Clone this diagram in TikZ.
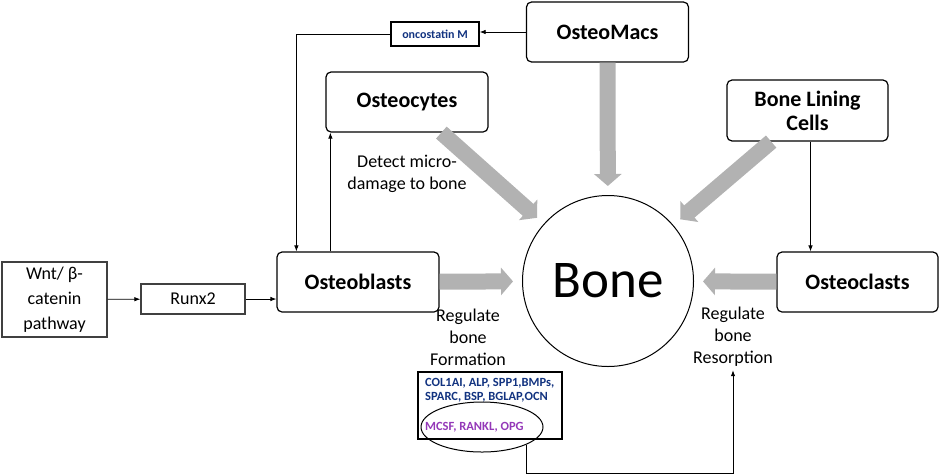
\documentclass[tikz,border=0pt]{standalone}
\usepackage{fontspec}
\setmainfont{Carlito}
\usetikzlibrary{arrows.meta,shapes.geometric,calc}
\definecolor{arrowgray}{rgb}{0.70,0.70,0.70}
\definecolor{geneblue}{rgb}{0.07,0.20,0.50}
\definecolor{genepurple}{rgb}{0.58,0.22,0.72}

\begin{document}
\begin{tikzpicture}[x=1pt,y=-1pt,
	cell/.style={draw, line width=1.2pt, rounded corners=5pt, align=center, minimum height=60pt, font=\fontsize{22}{24}\selectfont\bfseries},
	sqbox/.style={draw=black!75, line width=1.3pt, align=center, font=\fontsize{18}{25}\selectfont},
	note/.style={align=center, font=\fontsize{18}{22}\selectfont},
	genetext/.style={anchor=west, align=left, inner sep=0pt, font=\fontsize{12.5}{14}\selectfont\bfseries},
	link/.style={line width=0.8pt, -{Latex[length=6pt,width=4.5pt]}},
	flow/.style={line width=16pt, color=arrowgray, shorten >=9pt, -{Triangle[length=12pt,width=27pt]}}]
		\useasboundingbox (0,0) rectangle (941,475);
		% cells round the bone
		\node[cell, minimum width=162pt] (osteomacs) at (607.5,32) {OsteoMacs};
		\node[cell, minimum width=162pt] (osteocytes) at (407,102) {Osteocytes};
		\node[cell, minimum width=161pt, minimum height=61pt] (lining) at (807.5,110.5) {Bone Lining\\Cells};
		\node[cell, minimum width=162pt] (osteoblasts) at (358,282) {Osteoblasts};
		\node[cell, minimum width=161pt] (osteoclasts) at (857.5,282) {Osteoclasts};
		\node[draw, line width=1pt, circle, minimum size=171pt, font=\fontsize{53}{60}\selectfont] (bone) at (608,281) {Bone};
		% left chain
		\node[sqbox, minimum width=105pt, minimum height=75pt] (wnt) at (54.5,299.5) {Wnt/ β-\\catenin\\pathway};
		\node[sqbox, minimum width=104pt, minimum height=30pt] (runx) at (193,299) {Runx2};
		\node[draw, line width=1.3pt, minimum width=88pt, minimum height=24pt, text=geneblue, font=\fontsize{12}{14}\selectfont\bfseries] (oncostatin) at (435,34) {oncostatin M};
		% labels
		\node[note] (damage) at (407,174) {Detect micro-\\damage to bone};
		\node[note] (formation) at (468,337) {Regulate\\bone\\Formation};
		\node[note] (resorption) at (733,337) {Regulate\\bone\\Resorption};
		% gene box
		\node[draw, line width=1.3pt, minimum width=144pt, minimum height=67pt] (genes) at (490,405.5) {};
		\node[genetext, text=geneblue] (markers) at (425,390) {COL1AI, ALP, SPP1,BMPs,\\SPARC, BSP, BGLAP,OCN};
		\node[genetext, text=genepurple] (signals) at (425,427) {MCSF, RANKL, OPG};
		\node[draw, line width=1pt, ellipse, minimum width=122pt, minimum height=50pt] (ring) at (482,427) {};
		% thick grey arrows
		\foreach \src in {osteomacs, osteocytes, lining, osteoblasts, osteoclasts}{
			\draw[flow] (\src) -- (bone);
		}
		% thin arrows
		\draw[link] (wnt) -- (runx);
		\draw[link] (runx.east) -- (runx.east -| osteoblasts.west);
		\draw[link] (osteomacs.west) -- (osteomacs.west -| oncostatin.east);
		\coordinate (drop) at ($(osteoblasts.north west)+(20,0)$);
		\draw[link] (oncostatin.west) -| (drop);
		\coordinate (rise) at ($(osteoblasts.north west)+(54,0)$);
		\draw[link] (rise) -- (rise |- osteocytes.south);
		\coordinate (signal) at ($(lining.south)+(3,0)$);
		\draw[link] (signal) -- (signal |- osteoclasts.north);
		\coordinate (base) at (0,473);
		\draw[link] (ring.-22) -- (ring.-22 |- base) -| (resorption.south);
		\end{tikzpicture}
\end{document}
